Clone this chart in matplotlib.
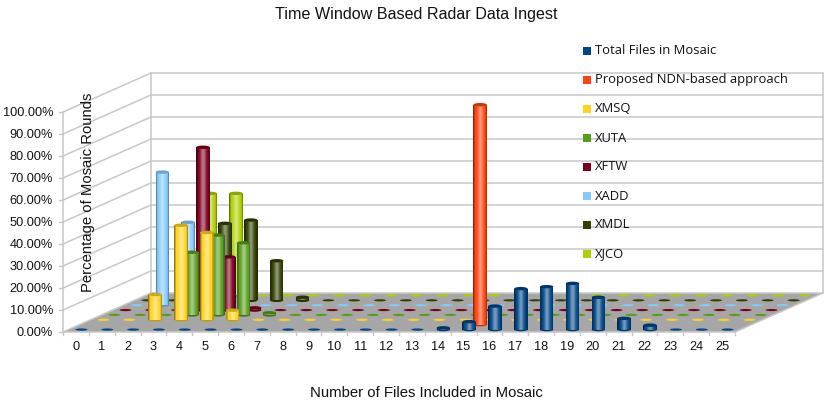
import matplotlib
matplotlib.use('Agg')
import matplotlib.pyplot as plt
from matplotlib.patches import Ellipse, Rectangle, Polygon
import matplotlib.colors as mc
import numpy as np

# values, percent per file count 0..25
categories = list(range(26))
series_names = ['Total Files in Mosaic', 'Proposed NDN-based approach', 'XMSQ', 'XUTA',
                'XFTW', 'XADD', 'XMDL', 'XJCO']
colors = ['#004586', '#ff420e', '#ffd320', '#579d1c', '#7e0021', '#83caff', '#314004', '#aecf00']

total = [0, 0, 0, 0, 0, 0, 0, 0, 0, 0, 0, 0, 0, 0.2, 0.8, 3.6, 10.7, 18.6, 19.5, 21, 14.7, 5.1, 2, 0.2, 0.2, 0.2]
ndn = [None] * 15 + [100] + [None] * 10
xmsq = [0, 0, 11.5, 43, 39.7, 4.4] + [0] * 20
xuta = [0, 0, 0.2, 28.5, 36.3, 32.8, 1] + [0] * 19
xftw = [0, 0, 0, 74, 24.2, 1] + [0] * 20
xadd = [0, 60.5, 37.7] + [0] * 23
xmdl = [0, 0, 0, 35, 36.5, 18, 1.4] + [0] * 19
xjco = [0, 0, 46.4, 46.4] + [0] * 22
series = [total, ndn, xmsq, xuta, xftw, xadd, xmdl, xjco]

yticks = list(range(0, 101, 10))

x0, y0 = 63, 332      # front left floor corner
front_w = 672         # floor width
dx, dy = 88, -39      # depth offset
px_per_pct = 2.2
rx, ry = 6.7, 1.7
grid = '#c8c8c8'
n_cat = len(categories)
n_ser = len(series)


def project(cat, ser, val=0):
    # cat, ser in slot units, val in percent
    x = x0 + cat * front_w / n_cat + ser * dx / n_ser
    y = y0 + ser * dy / n_ser - val * px_per_pct
    return x, y


def cylinder(ax, cat, ser, val, color, z):
    x, y = project(cat + 0.5, ser + 0.5)
    rgb = np.array(mc.to_rgb(color))
    if val < 0.5:
        ax.add_patch(Ellipse((x, y), 12, 2.2, color=rgb, lw=0, zorder=z))
        return
    top = y - val * px_per_pct
    ax.add_patch(Ellipse((x, y), 2 * rx, 2 * ry, color=rgb * 0.75, lw=0, zorder=z))
    for s in np.linspace(-1, 1, 27)[:-1]:
        # thin dark rim, pale band in the middle
        edge = np.clip((abs(s) - 0.72) / 0.28, 0, 1)
        light = np.exp(-(s / 0.4) ** 2)
        c = rgb + (1 - rgb) * light * 0.45
        c = c * (1 - 0.42 * edge)
        xs = x + s * rx
        ax.add_patch(Rectangle((xs, top), x + rx - xs, y - top, color=c, lw=0, zorder=z))
    ax.add_patch(Ellipse((x, top), 2 * rx, 2 * ry, color=rgb * 0.8, lw=0, zorder=z))


fig = plt.figure(figsize=(8.3, 4.04), dpi=100)
ax = fig.add_axes([0, 0, 1, 1])
ax.set_xlim(0, 830)
ax.set_ylim(404, 0)
ax.axis('off')

# floor
ax.add_patch(Polygon([(x0, y0), (x0 + front_w, y0), (x0 + front_w + dx, y0 + dy), (x0 + dx, y0 + dy)],
                     closed=True, color='#a6a6a6', lw=0, zorder=1))

# walls
for v in yticks:
    yy = y0 - v * px_per_pct
    ax.plot([x0, x0 + dx], [yy, yy + dy], color=grid, lw=1.1, zorder=2)
    ax.plot([x0 + dx, x0 + dx + front_w], [yy + dy, yy + dy], color=grid, lw=1.1, zorder=2)
    ax.plot([x0 - 4, x0], [yy, yy], color=grid, lw=1, zorder=2)
    ax.text(x0 - 10, yy + 1.5, '%.2f%%' % v, ha='right', va='center', fontsize=9.2,
            family='Liberation Sans', color='#111111')
ax.plot([x0, x0], [y0, y0 - 100 * px_per_pct], color=grid, lw=1.1, zorder=2)
ax.plot([x0 + dx] * 2, [y0 + dy, y0 + dy - 100 * px_per_pct], color=grid, lw=1.1, zorder=2)
ax.plot([x0 + dx + front_w] * 2, [y0 + dy, y0 + dy - 100 * px_per_pct], color=grid, lw=1.1, zorder=2)
ax.plot([x0, x0 + front_w, x0 + front_w + dx], [y0, y0, y0 + dy], color=grid, lw=1.1, zorder=2)

# x ticks
for i, c in enumerate(categories):
    xx = project(i + 0.5, 0)[0]
    ax.text(xx, 347, str(c), ha='center', va='center', fontsize=9.2, family='Liberation Sans', color='#111111')
for i in range(n_cat + 1):
    xx = project(i, 0)[0]
    ax.plot([xx, xx], [y0, y0 + 3], color=grid, lw=1, zorder=2)

# bars, back row first
for s in range(n_ser - 1, -1, -1):
    z = 10 + (n_ser - s)
    for i in range(n_cat):
        if series[s][i] is not None:
            cylinder(ax, i, s, series[s][i], colors[s], z)

# legend
for k, name in enumerate(series_names):
    ly = 51 + k * 29
    ax.add_patch(Rectangle((583, ly - 4), 8, 8, color=colors[k], lw=0, zorder=30))
    ax.text(595, ly, name, ha='left', va='center', fontsize=9.35, family='Open Sans', color='#111111', zorder=30)

ax.text(416, 15, 'Time Window Based Radar Data Ingest', ha='center', va='center', fontsize=11.6,
        family='Liberation Sans', color='#111111')
ax.text(426, 393, 'Number of Files Included in Mosaic', ha='center', va='center', fontsize=10.7,
        family='Liberation Sans', color='#111111')
ax.text(88, 192, 'Percentage of Mosaic Rounds', ha='center', va='center', rotation=90, fontsize=10.7,
        family='Liberation Sans', color='#111111', zorder=5)

fig.savefig('out.png', dpi=100)
